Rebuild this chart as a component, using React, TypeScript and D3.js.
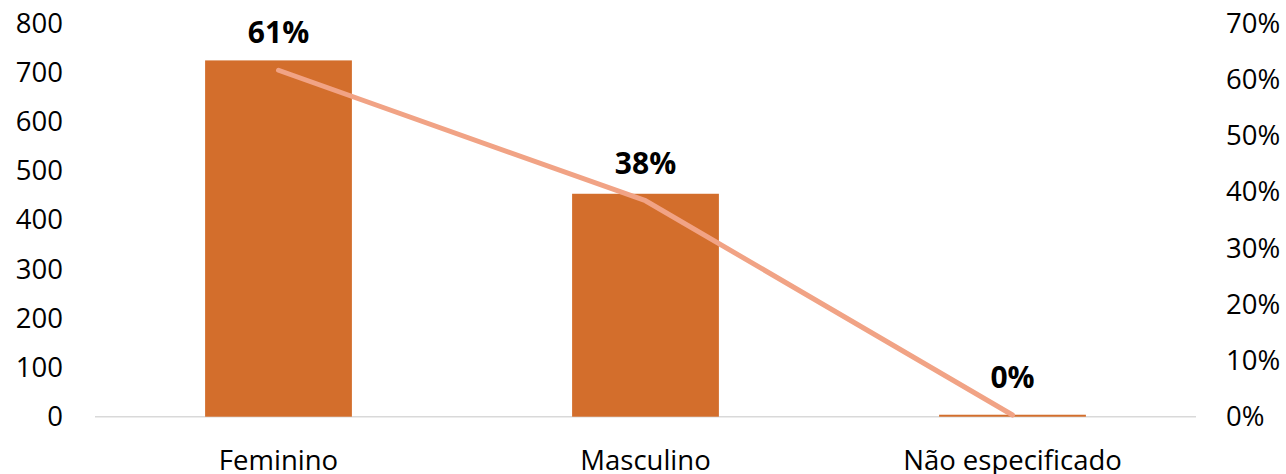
import React from "react";
import * as d3 from "d3";

const categories = ["Feminino", "Masculino", "Não especificado"];
const counts = [724, 453, 4];
const shares = [0.616, 0.384, 0.003];
const shareLabels = ["61%", "38%", "0%"];
const leftTicks = [0, 100, 200, 300, 400, 500, 600, 700, 800];
const rightTicks = [0, 0.1, 0.2, 0.3, 0.4, 0.5, 0.6, 0.7];

const W = 1286;
const H = 474;
const FONT = "'Open Sans', 'Liberation Sans', sans-serif";

export default function App() {
  const x = d3.scaleBand<string>().domain(categories).range([95, 1196]).paddingInner(0.6).paddingOuter(0.3);
  const xc = d3.scaleBand<string>().domain(categories).range([95, 1196]);
  const yL = d3.scaleLinear().domain([0, 800]).range([416.7, 23]);
  const yR = d3.scaleLinear().domain([0, 0.7]).range([416.7, 23]);
  const line = d3
    .line<number>()
    .x((_, i) => (xc(categories[i]) as number) + xc.bandwidth() / 2)
    .y((d) => yR(d));

  return (
    <svg
      width={W}
      height={H}
      style={{ position: "absolute", left: 0, top: 0, background: "#fff" }}
      fontFamily={FONT}
    >
      {leftTicks.map((t) => (
        <text key={"l" + t} x={63} y={yL(t)} dy="0.35em" textAnchor="end" fontSize={27.5} fill="#000">
          {t}
        </text>
      ))}
      {rightTicks.map((t) => (
        <text key={"r" + t} x={1226} y={yR(t)} dy="0.35em" textAnchor="start" fontSize={27.5} fill="#000">
          {d3.format(".0%")(t)}
        </text>
      ))}
      <line x1={95} x2={1196} y1={yL(0)} y2={yL(0)} stroke="#D9D9D9" strokeWidth={1.5} />
      {categories.map((c, i) => (
        <rect
          key={c}
          x={x(c)}
          width={x.bandwidth()}
          y={yL(counts[i])}
          height={yL(0) - yL(counts[i])}
          fill="#D36E2C"
        />
      ))}
      <path d={line(shares) || ""} fill="none" stroke="#F1A385" strokeWidth={5} strokeLinecap="round" strokeLinejoin="round" />
      {categories.map((c, i) => (
        <text
          key={"v" + c}
          x={(xc(c) as number) + xc.bandwidth() / 2}
          y={yR(shares[i]) - 27}
          textAnchor="middle"
          fontSize={30}
          fontWeight="bold"
          fill="#000"
        >
          {shareLabels[i]}
        </text>
      ))}
      {categories.map((c) => (
        <text
          key={"c" + c}
          x={(xc(c) as number) + xc.bandwidth() / 2}
          y={460}
          dy="0.35em"
          textAnchor="middle"
          fontSize={27.5}
          fill="#000"
        >
          {c}
        </text>
      ))}
    </svg>
  );
}
